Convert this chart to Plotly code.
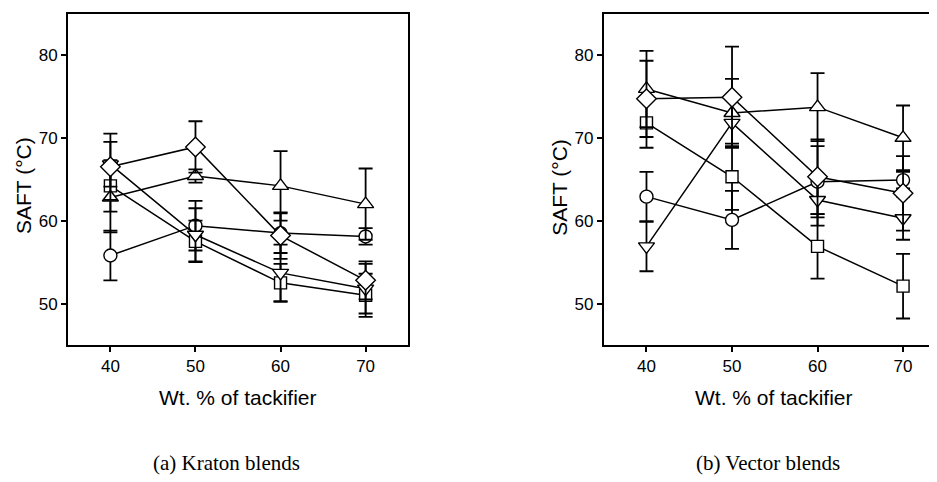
import plotly.graph_objects as go

# ---- data ----
wt = [40, 50, 60, 70]

kraton_circle = [55.8, 59.4, 58.5, 58.1]
kraton_circle_err = [3.0, 3.0, 2.4, 1.0]
kraton_square = [64.2, 57.5, 52.5, 51.0]
kraton_square_err = [3.1, 2.5, 2.3, 2.6]
kraton_tri_up = [62.8, 65.4, 64.2, 62.0]
kraton_tri_up_err = [4.2, 0.8, 4.2, 4.3]
kraton_tri_down = [66.8, 58.3, 53.7, 51.8]
kraton_tri_down_err = [2.7, 3.2, 3.4, 3.0]
kraton_diamond = [66.5, 68.9, 58.2, 52.8]
kraton_diamond_err = [4.0, 3.1, 2.8, 2.3]

vector_circle = [62.9, 60.1, 64.7, 64.9]
vector_circle_err = [3.0, 3.5, 4.3, 1.0]
vector_square = [71.8, 65.3, 56.9, 52.1]
vector_square_err = [3.0, 4.0, 3.9, 3.9]
vector_tri_up = [75.9, 73.0, 73.7, 70.0]
vector_tri_up_err = [4.6, 4.1, 4.1, 3.9]
vector_tri_down = [56.9, 71.8, 62.5, 60.3]
vector_tri_down_err = [3.0, 2.8, 3.1, 2.6]
vector_diamond = [74.7, 74.9, 65.3, 63.3]
vector_diamond_err = [4.6, 6.1, 4.5, 4.5]

y_ticks = [50, 60, 70, 80]
x_ticks = [40, 50, 60, 70]

W, H = 937, 482
OFF = 8  # page body margin offset (screenshot px = figure px + 8)
SANS = "Liberation Sans, Arial, sans-serif"
SERIF = "Liberation Serif, Times New Roman, serif"

fig = go.Figure()

symbols = [
    ("circle", 13),
    ("square", 12),
    ("triangle-up", 14),
    ("triangle-down", 14),
    ("diamond", 15),
]

kraton = [
    (kraton_circle, kraton_circle_err),
    (kraton_square, kraton_square_err),
    (kraton_tri_up, kraton_tri_up_err),
    (kraton_tri_down, kraton_tri_down_err),
    (kraton_diamond, kraton_diamond_err),
]
vector = [
    (vector_circle, vector_circle_err),
    (vector_square, vector_square_err),
    (vector_tri_up, vector_tri_up_err),
    (vector_tri_down, vector_tri_down_err),
    (vector_diamond, vector_diamond_err),
]


def add_series(data, xa, ya):
    for (vals, errs), (sym, sz) in zip(data, symbols):
        fig.add_trace(go.Scatter(
            x=wt, y=vals, xaxis=xa, yaxis=ya,
            mode="lines+markers",
            line=dict(color="black", width=1.5),
            marker=dict(symbol=sym, size=sz, color="white",
                        line=dict(color="black", width=1.4)),
            error_y=dict(type="data", array=errs, visible=True,
                         color="black", thickness=1.8, width=7),
            showlegend=False, hoverinfo="skip",
        ))


add_series(kraton, "x", "y")
add_series(vector, "x2", "y2")


def px_x(sx):
    return (sx - OFF) / W


def px_y(sy):
    return (H - (sy - OFF)) / H


ydom = [px_y(345), px_y(13.5)]

axis_common = dict(
    showgrid=False, zeroline=False, showline=True, linecolor="black",
    linewidth=1.6, ticks="outside", ticklen=5, tickwidth=1.5, tickcolor="black",
    tickfont=dict(family=SANS, size=17, color="black"),
)

fig.update_layout(
    width=W, height=H,
    margin=dict(l=0, r=0, t=0, b=0),
    paper_bgcolor="white", plot_bgcolor="white",
    xaxis=dict(domain=[px_x(68), px_x(409)], range=[35, 75], tickvals=x_ticks,
               mirror=True, anchor="y", **axis_common),
    yaxis=dict(domain=ydom, range=[45, 85], tickvals=y_ticks,
               mirror=True, anchor="x", **axis_common),
    xaxis2=dict(domain=[px_x(605), 1.0], range=[35, 74.67], tickvals=x_ticks,
                mirror=True, anchor="y2", **axis_common),
    yaxis2=dict(domain=ydom, range=[45, 85], tickvals=y_ticks,
                mirror=True, anchor="x2", **axis_common),
)

annotations = [
    dict(text="Wt. % of tackifier", x=px_x(238), y=px_y(397), font=dict(family=SANS, size=21)),
    dict(text="Wt. % of tackifier", x=px_x(776), y=px_y(397), font=dict(family=SANS, size=21)),
    dict(text="SAFT (°C)", x=px_x(23), y=px_y(185), textangle=-90, font=dict(family=SANS, size=21)),
    dict(text="SAFT (°C)", x=px_x(560), y=px_y(187), textangle=-90, font=dict(family=SANS, size=21)),
    dict(text="(a) Kraton blends", x=px_x(227), y=px_y(463), font=dict(family=SERIF, size=21)),
    dict(text="(b) Vector blends", x=px_x(770), y=px_y(463), font=dict(family=SERIF, size=21)),
]
for a in annotations:
    a.update(xref="paper", yref="paper", showarrow=False, xanchor="center", yanchor="middle")
    a["font"]["color"] = "black"
fig.update_layout(annotations=annotations)

fig.write_html("out.html")
